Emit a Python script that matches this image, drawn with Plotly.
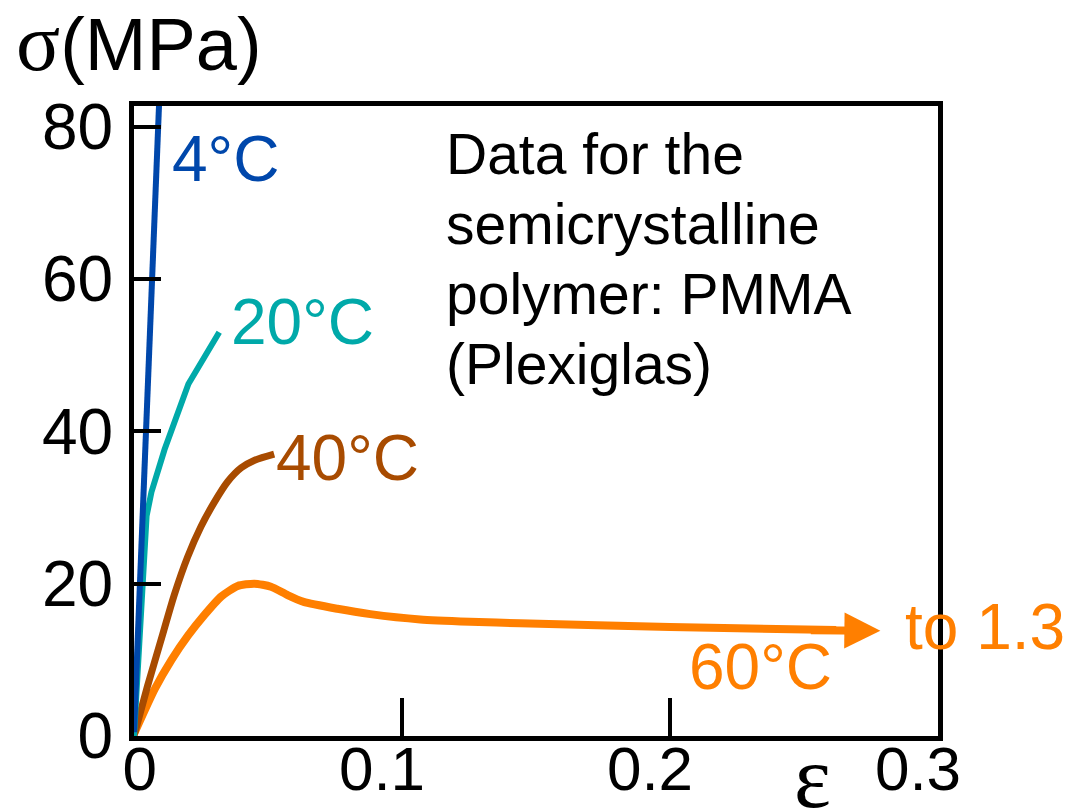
import plotly.graph_objects as go

# ---- data ----
x_4C = [0.0, 0.0097]
y_4C = [0.5, 86.0]

x_20C = [0.0, 0.0047, 0.0065, 0.0114, 0.0203, 0.0318]
y_20C = [0.0, 28.9, 32.0, 37.6, 46.2, 53.0]

x_40C = [0.0, 0.005, 0.010, 0.015, 0.020, 0.025, 0.030, 0.035, 0.040, 0.045, 0.0523]
y_40C = [0.0, 6.5, 12.5, 18.5, 23.5, 27.5, 30.7, 33.4, 35.2, 36.2, 37.0]

x_60C = [0.0003, 0.0078, 0.014, 0.0202, 0.0263, 0.0325, 0.0387, 0.0449, 0.0511,
         0.0573, 0.0633, 0.0759, 0.0882, 0.1068, 0.1254, 0.144, 0.200, 0.262]
y_60C = [0.5, 6.2, 10.0, 13.2, 15.9, 18.3, 19.7, 20.0, 19.6,
         18.5, 17.6, 16.7, 16.0, 15.3, 15.0, 14.8, 14.3, 13.9]
arrow_tip = (0.2785, 13.8)

x_ticks = [0, 0.1, 0.2, 0.3]
x_ticktext = ["\u00a0\u00a0\u00a00", "0.1", "0.2", "0.3"]
y_ticks = [0, 20, 40, 60, 80]
y_ticktext = ["0", "20", "40", "60", "80"]

note_lines = ["Data for the", "semicrystalline", "polymer: PMMA", "(Plexiglas)"]

BLUE = "#0047AB"
TEAL = "#00A9A9"
BROWN = "#A84B00"
ORANGE = "#FF7F00"
SANS = "Liberation Sans, Arial, sans-serif"
SERIF = "Liberation Serif, Times New Roman, serif"

fig = go.Figure()
fig.add_trace(go.Scatter(x=x_60C, y=y_60C, mode="lines",
                         line=dict(color=ORANGE, width=8, shape="spline", smoothing=0.6)))
fig.add_trace(go.Scatter(x=x_40C, y=y_40C, mode="lines",
                         line=dict(color=BROWN, width=7, shape="spline", smoothing=0.6)))
fig.add_trace(go.Scatter(x=x_20C, y=y_20C, mode="lines",
                         line=dict(color=TEAL, width=6)))
fig.add_trace(go.Scatter(x=x_4C, y=y_4C, mode="lines",
                         line=dict(color=BLUE, width=6)))

ann = []
# arrow at end of 60C curve
ann.append(dict(x=arrow_tip[0], y=arrow_tip[1], ax=x_60C[-1] - 0.01, ay=y_60C[-1],
                xref="x", yref="y", axref="x", ayref="y", text="",
                showarrow=True, arrowhead=2, arrowsize=0.9, arrowwidth=8, arrowcolor=ORANGE))

def lab(text, x, y, color, size=64, ref="", **kw):
    d = dict(x=x, y=y, xref="paper" if ref else "x", yref="paper" if ref else "y",
             text=text, showarrow=False, xanchor="center", yanchor="middle",
             font=dict(family=SANS, size=size, color=color))
    d.update(kw)
    ann.append(d)

lab("4°C", 0.0340, 75.7, BLUE)
lab("20°C", 0.0627, 54.3, TEAL)
lab("40°C", 0.0795, 36.5, BROWN)
lab("60°C", 0.2336, 9.1, ORANGE)
lab("to 1.3", 1.0585, 0.173, ORANGE, ref="paper")
for line, yv in zip(note_lines, [80.86, 71.67, 62.48, 53.3]):
    lab(line, 0.1155, yv, "black", size=57, xanchor="left", yanchor="top", align="left")

ann.append(dict(x=-0.149, y=1.100, xref="paper", yref="paper", xanchor="left", yanchor="middle",
                showarrow=False,
                text='<span style="font-family:Liberation Serif;font-size:82px">σ</span>(MPa)',
                font=dict(family=SANS, size=74, color="black")))
ann.append(dict(x=0.869, y=-0.146, xref="paper", yref="paper", showarrow=False,
                xanchor="right", yanchor="bottom",
                text="ε", font=dict(family=SERIF, size=88, color="black")))

fig.update_layout(
    width=1068, height=802,
    margin=dict(l=126, r=138, t=98, b=74),
    paper_bgcolor="white", plot_bgcolor="white",
    showlegend=False,
    annotations=ann,
    xaxis=dict(range=[0, 0.3], tickvals=x_ticks, ticktext=x_ticktext, automargin=False,
               showgrid=False, zeroline=False, showline=True, mirror=True,
               linecolor="black", linewidth=5, ticks="inside", ticklen=38,
               tickwidth=4, tickcolor="black", ticklabelshift=-20, ticklabelstandoff=-25,
               tickfont=dict(family=SANS, size=62, color="black")),
    yaxis=dict(range=[0, 82.7], tickvals=y_ticks, ticktext=y_ticktext, automargin=False,
               showgrid=False, zeroline=False, showline=True, mirror=True,
               linecolor="black", linewidth=5, ticks="inside", ticklen=27,
               tickwidth=4, tickcolor="black", ticklabelstandoff=3,
               tickfont=dict(family=SANS, size=64, color="black")),
)

fig.write_html("out.html")
